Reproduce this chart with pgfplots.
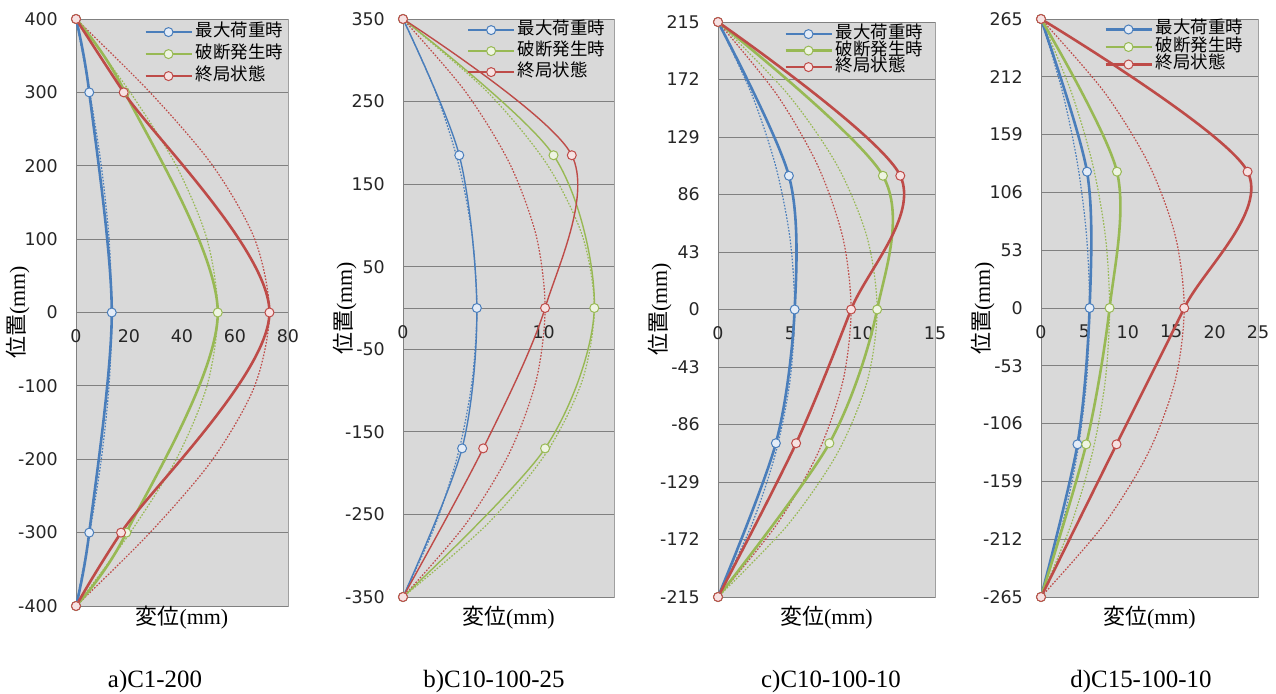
\documentclass[border=0pt]{standalone}
\usepackage{pgfplots}
\pgfplotsset{compat=1.18}
\usepackage{fontspec}
\setmainfont{Liberation Serif}
\newfontfamily\cjk{Noto Sans CJK JP}
\newfontfamily\tickf{DejaVu Sans}
\definecolor{bC}{HTML}{4A7EBB}
\definecolor{gC}{HTML}{98B954}
\definecolor{rC}{HTML}{BE4B48}
\definecolor{bF}{HTML}{E4ECF7}
\definecolor{gF}{HTML}{EEF4E2}
\definecolor{rF}{HTML}{F6E2E2}
\definecolor{plotbg}{HTML}{D9D9D9}
\definecolor{gridc}{HTML}{808080}
\definecolor{framec}{HTML}{A0A0A0}
\pgfplotsset{
 panel/.style={
  scale only axis, anchor=south west,
  axis x line*=middle, axis y line*=left,
  hide obscured x ticks=false, hide obscured y ticks=false,
  axis line style={draw=gridc, line width=0.8bp},
  axis background/.style={fill=plotbg, draw=framec, line width=0.8bp},
  ymajorgrids, grid style={draw=gridc, line width=0.9bp},
  major tick length=0pt, tick style={draw=none},
  /pgf/number format/assume math mode=true,
  ticklabel style={font=\tickf\fontsize{17.5}{19}\selectfont, text=black!85, inner sep=0pt},
  yticklabel style={anchor=east, xshift=-18bp},
  xticklabel style={anchor=north, yshift=-17bp},
  xlabel={{\cjk 変位}(mm)}, ylabel={{\cjk 位置}(mm)},
  label style={font=\fontsize{22}{24}\selectfont},
  ylabel style={at={(axis description cs:0,0.5)}, anchor=center, rotate=0, yshift=58bp},
  legend image code/.code={\draw[mark repeat=2,mark phase=2,##1] plot coordinates {(0bp,0bp) (23bp,0bp) (46bp,0bp)};},
  legend cell align=left,
 },
 lg/.style n args={3}{legend style={draw=none, fill=none, inner sep=0pt, outer sep=0pt,
   at={(1,1)}, anchor=north east, xshift=#1, yshift=#2,
   font=\cjk\fontsize{17.5}{19}\selectfont,
   nodes={inner sep=0pt, text height=12bp, text depth=3bp},
   /tikz/column sep=3bp, /tikz/row sep=#3}},
 sb/.style={color=bC, line width=#1, smooth, tension=0.5, mark=*, mark size=4.5bp,
   mark options={solid, fill=bF, draw=bC, line width=1bp}},
 sg/.style={color=gC, line width=#1, smooth, tension=0.5, mark=*, mark size=4.5bp,
   mark options={solid, fill=gF, draw=gC, line width=1bp}},
 sr/.style={color=rC, line width=#1, smooth, tension=0.5, mark=*, mark size=4.5bp,
   mark options={solid, fill=rF, draw=rC, line width=1bp}},
 dl/.style={color=#1, line width=1.2bp, dash pattern=on 1.6bp off 1.6bp, smooth, tension=0.5, no marks, forget plot},
}
\begin{document}
\begin{tikzpicture}
\path[use as bounding box] (0,0) rectangle (1276bp,694bp);
% ---------- a ----------
\begin{axis}[panel, at={(76bp,88bp)}, width=212bp, height=587bp,
  xmin=0, xmax=80, ymin=-400, ymax=400,
  xtick={0,20,40,60,80}, ytick={-400,-300,...,400},
  xlabel style={at={(axis description cs:0.5,0)}, anchor=center, yshift=-12bp},
  lg={-5bp}{-5.6bp}{7bp}]
\addplot[dl=bC] coordinates {(0,400)(5.17,300)(9.55,200)(12.47,100)(13.5,0)(12.47,-100)(9.55,-200)(5.17,-300)(0,-400)};
\addplot[dl=gC] coordinates {(0,400)(20.47,300)(37.83,200)(49.43,100)(53.5,0)(49.43,-100)(37.83,-200)(20.47,-300)(0,-400)};
\addplot[dl=rC] coordinates {(0,400)(27.94,300)(51.62,200)(67.44,100)(73,0)(67.44,-100)(51.62,-200)(27.94,-300)(0,-400)};
\addplot[sb=2.6bp] coordinates {(0,400)(5,300)(13.5,0)(5,-300)(0,-400)};
\addplot[sg=2.6bp] coordinates {(0,400)(18.5,300)(53.5,0)(19,-300)(0,-400)};
\addplot[sr=2.6bp] coordinates {(0,400)(18,300)(73,0)(17,-300)(0,-400)};
\legend{最大荷重時,破断発生時,終局状態}
\end{axis}
% ---------- b ----------
\begin{axis}[panel, at={(403bp,97bp)}, width=211bp, height=578bp,
  xmin=0, xmax=15, ymin=-350, ymax=350,
  xtick={0,10}, ytick={-350,-250,...,350},
  xlabel style={at={(axis description cs:0.5,0)}, anchor=center, yshift=-21bp},
  lg={-9bp}{-3.6bp}{6bp}]
\addplot[dl=bC] coordinates {(0,350)(2.30,262.5)(3.94,175)(4.92,87.5)(5.25,0)(4.92,-87.5)(3.94,-175)(2.30,-262.5)(0,-350)};
\addplot[dl=gC] coordinates {(0,350)(5.95,262.5)(10.2,175)(12.75,87.5)(13.6,0)(12.75,-87.5)(10.2,-175)(5.95,-262.5)(0,-350)};
\addplot[dl=rC] coordinates {(0,350)(4.42,262.5)(7.58,175)(9.47,87.5)(10.1,0)(9.47,-87.5)(7.58,-175)(4.42,-262.5)(0,-350)};
\addplot[sb=1.4bp] coordinates {(0,350)(4.0,185)(5.25,0)(4.2,-170)(0,-350)};
\addplot[sg=1.4bp] coordinates {(0,350)(10.7,185)(13.6,0)(10.1,-170)(0,-350)};
\addplot[sr=1.4bp] coordinates {(0,350)(12.0,185)(10.1,0)(5.7,-170)(0,-350)};
\legend{最大荷重時,破断発生時,終局状態}
\end{axis}
% ---------- c ----------
\begin{axis}[panel, at={(718bp,97bp)}, width=217bp, height=575bp,
  xmin=0, xmax=15, ymin=-215, ymax=215,
  xtick={0,5,10,15}, ytick={-215,-172,-129,-86,-43,0,43,86,129,172,215},
  xlabel style={at={(axis description cs:0.5,0)}, anchor=center, yshift=-21bp},
  lg={-12bp}{-4.6bp}{1.5bp}]
\addplot[dl=bC] coordinates {(0,215)(2.32,161.25)(3.98,107.5)(4.97,53.75)(5.3,0)(4.97,-53.75)(3.98,-107.5)(2.32,-161.25)(0,-215)};
\addplot[dl=gC] coordinates {(0,215)(4.81,161.25)(8.25,107.5)(10.31,53.75)(11.0,0)(10.31,-53.75)(8.25,-107.5)(4.81,-161.25)(0,-215)};
\addplot[dl=rC] coordinates {(0,215)(4.03,161.25)(6.9,107.5)(8.63,53.75)(9.2,0)(8.63,-53.75)(6.9,-107.5)(4.03,-161.25)(0,-215)};
\addplot[sb=2.6bp] coordinates {(0,215)(4.9,100)(5.3,0)(4.0,-100)(0,-215)};
\addplot[sg=2.6bp] coordinates {(0,215)(11.4,100)(11.0,0)(7.7,-100)(0,-215)};
\addplot[sr=2.6bp] coordinates {(0,215)(12.6,100)(9.2,0)(5.4,-100)(0,-215)};
\legend{最大荷重時,破断発生時,終局状態}
\end{axis}
% ---------- d ----------
\begin{axis}[panel, at={(1041bp,97bp)}, width=217bp, height=578bp,
  xmin=0, xmax=25, ymin=-265, ymax=265,
  xtick={0,5,10,15,20,25}, ytick={-265,-212,-159,-106,-53,0,53,106,159,212,265},
  xlabel style={at={(axis description cs:0.5,0)}, anchor=center, yshift=-21bp},
  lg={-15bp}{-3bp}{2.5bp}]
\addplot[dl=bC] coordinates {(0,265)(2.45,198.75)(4.2,132.5)(5.25,66.25)(5.6,0)(5.25,-66.25)(4.2,-132.5)(2.45,-198.75)(0,-265)};
\addplot[dl=gC] coordinates {(0,265)(3.46,198.75)(5.93,132.5)(7.41,66.25)(7.9,0)(7.41,-66.25)(5.93,-132.5)(3.46,-198.75)(0,-265)};
\addplot[dl=rC] coordinates {(0,265)(7.22,198.75)(12.38,132.5)(15.47,66.25)(16.5,0)(15.47,-66.25)(12.38,-132.5)(7.22,-198.75)(0,-265)};
\addplot[sb=2.6bp] coordinates {(0,265)(5.3,125)(5.6,0)(4.2,-125)(0,-265)};
\addplot[sg=2.6bp] coordinates {(0,265)(8.75,125)(7.9,0)(5.2,-125)(0,-265)};
\addplot[sr=2.6bp] coordinates {(0,265)(23.8,125)(16.5,0)(8.7,-125)(0,-265)};
\legend{最大荷重時,破断発生時,終局状態}
\end{axis}
\node[font=\fontsize{25}{28}\selectfont] at (155bp,12bp) {a)C1-200};
\node[font=\fontsize{25}{28}\selectfont] at (494bp,12bp) {b)C10-100-25};
\node[font=\fontsize{25}{28}\selectfont] at (831bp,12bp) {c)C10-100-10};
\node[font=\fontsize{25}{28}\selectfont] at (1141bp,12bp) {d)C15-100-10};
\end{tikzpicture}
\end{document}
